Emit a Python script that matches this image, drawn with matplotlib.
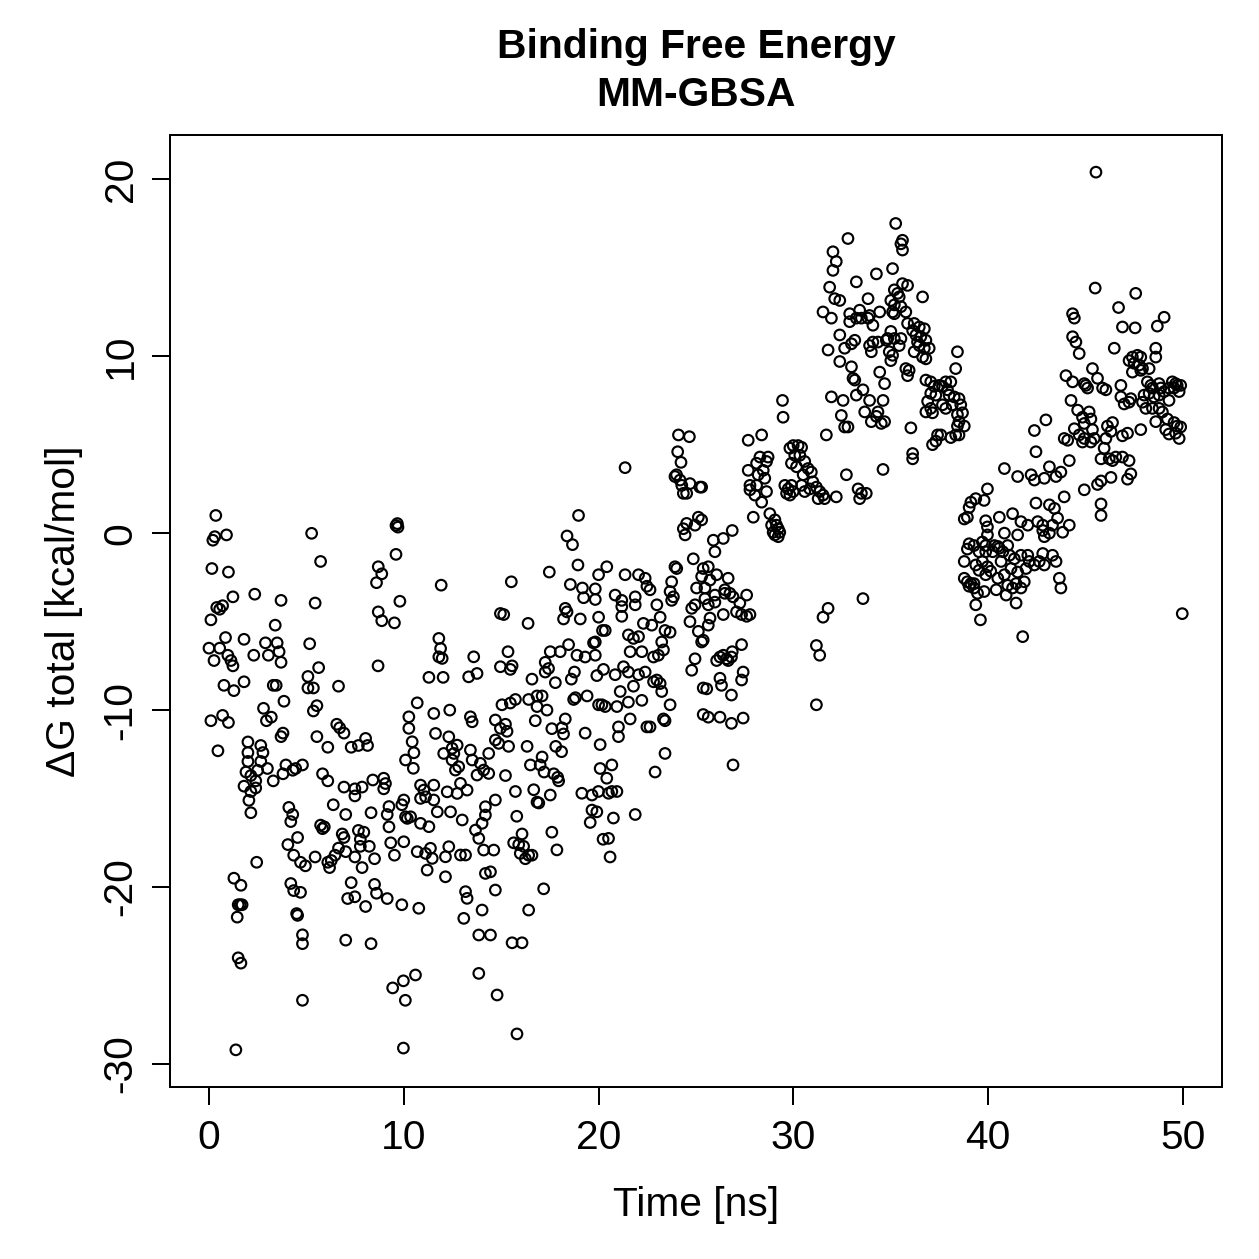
import numpy as np
import matplotlib
matplotlib.use("Agg")
import matplotlib.pyplot as plt

# MM-GBSA binding free energy per frame, (time [ns], dG total [kcal/mol]),
# read off the reference in 5 ns blocks.
block_00_05 = [
    (0.35, 1.0), (0.2, -0.4), (0.3, -0.2), (0.9, -0.1), (0.15, -2.0), (1.0, -2.2),
    (1.23, -3.6), (2.35, -3.45), (3.7, -3.8), (0.4, -4.2), (0.55, -4.3), (0.7, -4.1),
    (0.1, -4.9), (3.4, -5.2), (0.85, -5.9), (1.8, -6.0), (0.0, -6.5), (0.55, -6.5),
    (2.9, -6.2), (3.5, -6.2), (3.05, -6.9), (3.6, -6.7), (0.26, -7.2), (0.97, -6.9),
    (1.13, -7.2), (1.23, -7.5), (2.3, -6.9), (3.7, -7.3), (0.77, -8.6), (1.28, -8.9),
    (1.8, -8.4), (3.3, -8.6), (3.45, -8.6), (2.8, -9.9), (3.2, -10.4), (2.95, -10.6),
    (3.85, -9.5), (0.1, -10.6), (0.7, -10.3), (1.0, -10.7), (3.7, -11.5), (3.8, -11.3),
    (2.0, -11.8), (2.66, -12.0), (2.77, -12.4), (2.0, -12.4), (0.46, -12.3), (2.0, -12.9),
    (2.5, -13.4), (2.66, -12.9), (3.95, -13.1), (3.0, -13.3), (3.3, -14.0), (3.8, -13.6),
    (4.3, -13.4), (4.45, -13.3), (4.8, -13.1), (1.9, -13.5), (2.15, -13.7), (2.4, -14.0),
    (1.8, -14.3), (2.15, -14.6), (2.4, -14.4), (2.05, -15.1), (2.15, -15.8), (4.1, -15.5),
    (4.3, -15.9), (4.2, -16.3), (4.55, -17.2), (4.05, -17.6), (4.35, -18.2), (4.7, -18.6),
    (4.95, -18.8), (2.45, -18.6), (4.2, -19.8), (4.35, -20.2), (4.7, -20.3), (1.28, -19.5),
    (1.64, -19.9), (1.5, -21.0), (1.6, -21.0), (1.7, -21.0), (1.45, -21.7), (4.5, -21.5),
    (4.55, -21.6), (4.8, -22.7), (4.8, -23.2), (1.5, -24.0), (1.64, -24.3), (4.8, -26.4),
    (1.38, -29.2),
]

block_05_10 = [
    (5.27, -0.01), (5.73, -1.6), (5.45, -3.95), (5.17, -6.25), (5.63, -7.6), (5.08, -8.1),
    (5.36, -8.75), (5.08, -8.75), (6.65, -8.65), (5.54, -9.75), (5.36, -10.05), (6.56, -10.8),
    (6.71, -11.0), (5.54, -11.5), (6.1, -12.1), (6.93, -11.3), (7.3, -12.1), (7.67, -12.0),
    (8.14, -12.0), (8.04, -11.6), (5.83, -13.6), (6.1, -14.0), (8.68, -7.5), (8.69, -1.9),
    (8.87, -2.3), (8.6, -2.8), (9.6, 0.43), (9.7, 0.34), (9.67, 0.54), (9.6, -1.2),
    (9.8, -3.85), (8.69, -4.45), (8.87, -4.95), (9.52, -5.07), (6.93, -14.35), (7.49, -14.45),
    (7.49, -14.85), (7.86, -14.35), (8.41, -13.95), (8.97, -13.85), (9.06, -14.15), (8.97, -14.45),
    (6.38, -15.35), (7.02, -15.9), (8.32, -15.8), (9.15, -15.9), (9.24, -15.45), (9.9, -15.35),
    (5.73, -16.5), (5.83, -16.7), (5.92, -16.6), (6.84, -17.0), (6.93, -17.2), (7.67, -16.8),
    (7.95, -16.9), (7.77, -17.3), (9.24, -16.6), (9.33, -17.5), (5.45, -18.3), (6.1, -18.6),
    (6.28, -18.5), (6.19, -18.9), (6.47, -18.2), (6.65, -17.8), (7.02, -18.0), (7.49, -18.3),
    (7.86, -18.9), (7.77, -17.7), (8.23, -17.7), (8.5, -18.4), (9.52, -18.2), (7.3, -19.75),
    (8.5, -19.85), (8.6, -20.35), (9.15, -20.65), (9.9, -21.0), (7.49, -20.55), (7.12, -20.65),
    (8.04, -21.1), (7.02, -23.0), (8.32, -23.2), (9.43, -25.7), (9.98, -25.3), (10.08, -26.4),
    (9.98, -29.1),
]

block_10_15 = [
    (11.92, -2.94), (14.96, -4.54), (11.8, -5.95), (11.89, -6.52), (11.97, -7.08), (11.8, -6.99),
    (13.59, -6.99), (13.76, -7.93), (13.33, -8.12), (11.29, -8.15), (12.02, -8.15), (14.96, -7.55),
    (10.69, -9.59), (10.26, -10.38), (10.26, -11.03), (10.43, -11.79), (10.52, -12.41),
    (10.09, -12.82), (10.49, -13.29), (11.54, -10.19), (12.36, -10.0), (11.63, -11.32),
    (12.31, -11.51), (13.42, -10.38), (13.51, -10.66), (14.7, -10.56), (14.96, -11.03),
    (14.7, -11.69), (12.05, -12.45), (12.48, -12.16), (12.57, -12.45), (12.74, -11.98),
    (12.48, -12.82), (12.82, -13.2), (12.65, -13.39), (13.42, -12.26), (13.51, -12.82),
    (13.93, -13.01), (14.1, -13.39), (14.36, -12.45), (14.87, -11.88), (10.86, -14.24),
    (11.03, -14.52), (11.54, -14.24), (10.86, -14.99), (11.12, -14.9), (11.54, -15.08),
    (12.23, -14.62), (12.74, -14.71), (12.91, -14.14), (13.25, -14.52), (13.76, -13.67),
    (14.36, -13.58), (14.7, -15.08), (14.19, -15.46), (10.0, -15.08), (10.09, -16.03),
    (10.35, -16.03), (10.18, -16.12), (10.86, -16.4), (11.29, -16.59), (11.72, -15.75),
    (12.4, -15.75), (13.0, -16.21), (14.19, -15.93), (14.02, -16.4), (13.68, -16.78),
    (13.85, -17.25), (14.1, -17.91), (14.62, -17.91), (14.45, -19.14), (14.19, -19.23),
    (14.7, -20.17), (10.0, -17.44), (10.69, -18.0), (11.12, -18.1), (11.37, -17.81),
    (11.46, -18.38), (12.14, -18.29), (12.31, -17.72), (12.91, -18.19), (13.17, -18.19),
    (11.2, -19.04), (12.14, -19.42), (13.17, -20.26), (13.25, -20.64), (13.08, -21.77),
    (14.02, -21.3), (10.77, -21.2), (13.85, -22.71), (14.45, -22.71), (10.6, -24.97),
    (13.85, -24.88), (14.79, -26.1),
]

block_15_20 = [
    (18.97, 1.0), (18.38, -0.16), (18.66, -0.65), (18.94, -1.8), (17.47, -2.2), (15.52, -2.75),
    (20.0, -2.35), (18.55, -2.9), (19.17, -3.1), (19.83, -3.15), (19.23, -3.65), (19.83, -3.75),
    (18.29, -4.25), (18.38, -4.45), (18.2, -4.85), (19.06, -4.85), (20.0, -4.75), (15.13, -4.6),
    (16.38, -5.1), (20.2, -5.5), (15.35, -6.7), (15.47, -7.7), (15.56, -7.5), (17.52, -6.7),
    (18.03, -6.7), (18.46, -6.3), (18.89, -6.9), (19.31, -7.0), (19.83, -6.9), (17.26, -7.3),
    (17.43, -7.65), (17.26, -7.85), (18.6, -8.25), (18.76, -7.85), (19.74, -6.2), (19.91, -8.05),
    (17.78, -8.45), (16.58, -8.25), (15.04, -9.7), (15.47, -9.6), (15.73, -9.4), (16.41, -9.4),
    (16.84, -9.2), (17.1, -9.2), (16.84, -9.8), (17.35, -10.0), (18.72, -9.4), (18.81, -9.3),
    (19.41, -9.2), (20.0, -9.7), (15.22, -10.8), (15.3, -11.2), (15.38, -12.05), (16.33, -12.05),
    (16.75, -10.6), (17.6, -11.05), (18.12, -11.0), (18.2, -11.35), (18.29, -10.5), (19.31, -11.3),
    (17.1, -12.65), (17.0, -13.1), (16.5, -13.1), (17.2, -13.5), (17.8, -12.05), (18.1, -12.35),
    (17.7, -13.6), (17.9, -13.8), (17.95, -14.0), (15.22, -13.7), (16.67, -14.5), (16.84, -15.2),
    (16.93, -15.25), (17.52, -14.8), (19.14, -14.7), (19.66, -14.8), (19.66, -15.65),
    (19.57, -16.35), (15.73, -14.6), (15.8, -16.0), (16.07, -17.0), (15.64, -17.5), (15.9, -17.6),
    (16.15, -17.7), (15.98, -18.1), (16.24, -18.4), (16.41, -18.2), (16.58, -18.2), (17.6, -16.9),
    (17.86, -17.9), (20.23, -17.3), (17.18, -20.1), (16.41, -21.3), (15.56, -23.15),
    (16.07, -23.15), (15.81, -28.3),
]

block_20_25 = [
    (24.1, 5.55), (24.66, 5.45), (24.06, 4.6), (24.23, 4.0), (21.36, 3.7), (23.92, 3.2),
    (24.18, 3.0), (24.27, 2.7), (24.69, 2.8), (24.35, 2.25), (24.52, 2.25), (25.2, 2.6),
    (24.0, 3.3), (25.12, 0.9), (24.52, 0.55), (24.95, 0.45), (24.35, 0.25), (24.44, -0.1),
    (24.86, -1.45), (23.92, -1.9), (24.01, -2.0), (23.75, -2.75), (23.84, -3.6), (23.75, -3.8),
    (23.67, -3.3), (20.42, -1.9), (21.36, -2.35), (22.05, -2.35), (22.39, -2.55), (22.48, -3.0),
    (22.64, -3.2), (20.85, -3.5), (21.19, -3.8), (21.19, -4.15), (21.88, -3.6), (21.88, -4.05),
    (22.99, -4.05), (21.19, -4.7), (25.03, -3.1), (24.95, -4.05), (24.78, -4.25), (24.69, -5.0),
    (25.12, -5.55), (25.29, -6.15), (20.34, -5.5), (20.25, -7.7), (20.85, -8.0), (21.53, -5.75),
    (21.79, -5.95), (22.05, -5.85), (22.3, -5.1), (22.73, -5.2), (23.16, -4.75), (23.41, -5.5),
    (23.67, -5.6), (23.24, -6.15), (21.62, -6.7), (22.22, -6.7), (22.82, -7.0), (23.07, -6.9),
    (23.33, -6.6), (19.83, -6.15), (21.28, -7.55), (21.53, -7.85), (22.05, -8.0), (22.39, -7.85),
    (22.82, -8.4), (22.99, -8.3), (23.16, -8.5), (23.24, -8.95), (21.79, -8.65), (21.11, -8.95),
    (22.22, -9.45), (23.67, -9.7), (24.95, -7.1), (24.78, -7.75), (20.17, -9.7), (20.34, -9.8),
    (20.94, -9.8), (21.53, -9.55), (21.62, -10.5), (22.48, -10.95), (22.64, -10.95),
    (23.33, -10.5), (23.41, -10.6), (25.37, -8.75), (25.37, -10.25), (21.02, -10.95),
    (21.02, -11.5), (20.08, -11.95), (20.68, -13.1), (20.08, -13.3), (20.42, -13.85),
    (20.51, -14.7), (20.68, -14.6), (20.94, -14.6), (19.99, -14.6), (23.41, -12.45),
    (22.9, -13.5), (20.76, -16.1), (21.88, -15.9), (20.51, -17.25), (20.59, -18.3), (19.91, -15.75),
]

block_25_30 = [
    (29.44, 7.5), (29.47, 6.55), (27.68, 5.25), (28.37, 5.55), (28.28, 4.3), (28.7, 4.3),
    (28.62, 4.05), (28.11, 3.95), (27.68, 3.55), (28.45, 3.55), (28.19, 3.3), (28.53, 3.1),
    (27.77, 2.7), (28.11, 2.7), (28.62, 2.35), (28.02, 2.15), (27.77, 2.45), (28.37, 1.75),
    (27.94, 0.9), (28.79, 1.1), (29.05, 0.75), (29.13, 0.45), (29.22, 0.25), (29.3, 0.05),
    (28.96, 0.05), (29.05, -0.1), (29.22, -0.2), (28.88, 0.45), (29.56, 2.7), (29.73, 2.5),
    (29.65, 2.25), (25.29, 2.6), (25.29, 0.75), (25.89, -0.4), (26.4, -0.3), (25.97, -1.05),
    (26.86, 0.15), (25.37, -2.0), (25.63, -1.9), (25.29, -2.45), (25.46, -3.1), (25.72, -2.65),
    (26.06, -2.35), (26.65, -2.55), (26.48, -3.2), (26.74, -3.4), (25.97, -3.5), (25.46, -3.7),
    (25.97, -3.9), (25.63, -4.05), (26.48, -3.4), (26.9, -3.6), (27.25, -3.95), (27.6, -3.5),
    (27.08, -4.45), (27.34, -4.6), (27.6, -4.7), (27.77, -4.6), (25.72, -4.8), (25.63, -5.2),
    (26.4, -4.6), (25.37, -6.05), (27.34, -6.3), (26.23, -7.0), (26.4, -6.9), (26.57, -7.1),
    (26.65, -7.2), (26.82, -7.0), (26.06, -7.2), (26.86, -6.7), (27.42, -7.85), (27.34, -8.3),
    (26.23, -8.2), (26.31, -8.6), (25.55, -8.8), (26.82, -9.15), (25.63, -10.4), (26.23, -10.4),
    (26.82, -10.75), (27.42, -10.45), (26.9, -13.1),
]

block_30_35 = [
    (35.25, 17.5), (32.8, 16.65), (32.03, 15.9), (32.2, 15.35), (32.03, 14.85), (34.26, 14.65),
    (33.23, 14.2), (31.86, 13.9), (32.12, 13.25), (32.38, 13.15), (33.83, 13.25), (31.52, 12.5),
    (31.95, 12.15), (32.89, 12.4), (33.4, 12.6), (33.49, 12.15), (33.91, 12.3), (33.83, 12.15),
    (34.08, 11.75), (34.43, 12.5), (32.89, 11.95), (33.23, 12.15), (32.38, 11.2), (31.78, 10.35),
    (32.63, 10.45), (32.98, 10.7), (33.15, 10.9), (34.08, 10.8), (33.91, 10.6), (34.0, 10.25),
    (34.34, 10.8), (34.77, 10.9), (32.38, 9.7), (32.98, 9.4), (33.06, 8.75), (33.15, 8.65),
    (34.43, 9.1), (34.68, 8.45), (31.95, 7.7), (32.55, 7.5), (33.23, 7.8), (33.57, 8.1),
    (33.91, 7.5), (33.66, 6.85), (34.0, 6.3), (34.34, 6.85), (34.6, 7.5), (34.68, 6.3),
    (34.51, 6.2), (32.46, 6.65), (32.63, 6.0), (32.8, 6.0), (34.26, 6.6), (31.69, 5.55),
    (32.72, 3.3), (34.6, 3.6), (33.32, 2.5), (33.49, 2.25), (33.74, 2.25), (33.4, 1.95),
    (29.82, 4.8), (29.99, 4.95), (30.24, 4.95), (30.42, 4.85), (30.07, 4.4), (30.33, 4.4),
    (29.9, 3.95), (30.16, 3.75), (30.58, 4.05), (30.75, 3.65), (30.92, 3.45), (30.5, 3.3),
    (29.9, 2.7), (29.99, 2.35), (30.42, 2.7), (30.58, 2.35), (31.0, 2.9), (31.18, 2.6),
    (31.35, 2.35), (31.52, 2.15), (31.27, 1.95), (31.6, 1.95), (32.2, 2.05), (30.84, 2.5),
    (29.82, 2.15), (33.57, -3.7), (31.78, -4.25), (31.52, -4.75), (31.18, -6.35), (31.35, -6.9),
    (31.18, -9.7),
]

block_35_40 = [
    (35.6, 16.55), (35.52, 16.35), (35.6, 16.0), (35.09, 14.95), (35.6, 14.1), (35.86, 14.0),
    (35.18, 13.75), (35.35, 13.55), (35.43, 13.35), (36.63, 13.35), (35.0, 13.15), (35.18, 12.9),
    (35.52, 12.8), (35.09, 12.5), (35.18, 12.4), (35.77, 12.5), (35.86, 11.85), (36.2, 11.85),
    (36.46, 11.65), (36.72, 11.55), (36.12, 11.45), (36.29, 11.2), (36.54, 11.1), (36.37, 10.8),
    (36.8, 10.9), (36.46, 10.6), (36.2, 10.25), (36.63, 9.95), (36.8, 9.85), (36.72, 10.45),
    (36.97, 10.45), (35.0, 11.4), (35.18, 11.0), (35.52, 11.0), (35.43, 10.6), (34.84, 11.0),
    (34.92, 10.25), (35.09, 10.05), (35.0, 9.75), (35.77, 9.3), (35.94, 9.2), (35.86, 8.9),
    (38.42, 10.25), (38.33, 9.3), (36.8, 8.65), (37.05, 8.55), (37.23, 8.3), (37.48, 8.35),
    (37.65, 8.3), (37.82, 8.55), (38.08, 8.55), (37.91, 8.1), (37.99, 7.8), (38.25, 7.7),
    (37.05, 7.9), (37.31, 7.8), (36.89, 7.45), (37.05, 7.05), (36.8, 6.85), (37.14, 6.8),
    (37.65, 7.25), (37.82, 7.05), (38.16, 7.25), (38.5, 7.6), (38.59, 7.25), (38.42, 6.7),
    (38.68, 6.8), (38.5, 6.3), (38.42, 6.05), (38.77, 6.05), (38.5, 5.55), (38.33, 5.55),
    (38.08, 5.4), (37.4, 5.55), (37.57, 5.55), (37.31, 5.2), (37.14, 5.0), (36.03, 5.95),
    (36.12, 4.5), (36.12, 4.2), (39.96, 2.5), (39.36, 1.95), (39.79, 1.85), (39.11, 1.75),
    (39.02, 1.45), (38.77, 0.8), (38.93, 0.9), (39.87, 0.7), (39.96, 0.35), (39.96, -0.1),
    (39.7, -0.5), (39.87, -0.7), (39.27, -0.7), (39.02, -0.6), (38.93, -0.9), (39.53, -1.05),
    (39.87, -1.05), (38.77, -1.6), (39.36, -1.8), (39.7, -1.6), (39.96, -1.9), (40.13, -2.15),
    (39.53, -2.1), (39.87, -2.35), (38.77, -2.55), (38.93, -2.75), (39.11, -2.85), (39.27, -2.85),
    (39.02, -3.0), (39.27, -3.1), (39.45, -3.4), (39.79, -3.3), (39.36, -4.05), (39.6, -4.9),
]

block_40_45 = [
    (44.33, 12.4), (44.42, 12.15), (44.33, 11.1), (44.5, 10.8), (44.67, 10.15), (43.99, 8.9),
    (44.33, 8.55), (44.93, 8.45), (44.25, 7.5), (44.59, 6.95), (44.84, 6.55), (44.93, 6.2),
    (44.42, 5.9), (43.9, 5.35), (44.08, 5.25), (44.67, 5.55), (44.93, 5.35), (44.84, 5.15),
    (42.96, 6.4), (42.37, 5.8), (42.45, 4.6), (40.83, 3.65), (41.51, 3.2), (42.2, 3.3),
    (42.37, 3.0), (42.88, 3.1), (43.14, 3.75), (43.48, 3.2), (43.73, 3.45), (44.16, 4.1),
    (44.93, 2.45), (42.45, 1.7), (43.14, 1.6), (43.4, 1.4), (43.9, 2.05), (40.57, 0.9),
    (41.25, 1.1), (41.68, 0.65), (42.03, 0.45), (42.54, 0.65), (42.8, 0.45), (42.8, 0.15),
    (43.3, 0.45), (43.56, 0.85), (44.16, 0.45), (43.82, 0.05), (43.14, 0.0), (42.88, -0.2),
    (41.51, -0.1), (40.83, 0.0), (40.32, -0.7), (40.49, -0.75), (40.23, -1.05), (40.57, -0.85),
    (40.75, -1.05), (41.0, -0.7), (41.09, -1.25), (41.34, -1.45), (41.68, -1.25), (42.03, -1.25),
    (42.11, -1.6), (42.37, -1.8), (42.62, -1.6), (42.8, -1.15), (43.3, -1.25), (43.48, -1.6),
    (42.88, -1.8), (41.94, -2.0), (41.51, -2.2), (41.17, -2.0), (40.66, -1.6), (40.49, -2.55),
    (40.83, -2.35), (41.0, -2.95), (41.25, -3.1), (41.43, -2.85), (41.68, -3.1), (41.85, -2.75),
    (40.41, -3.2), (40.92, -3.5), (41.43, -3.95), (43.65, -2.55), (43.73, -3.1), (41.77, -5.85),
]

block_45_50 = [
    (45.53, 20.4), (45.49, 13.85), (47.57, 13.55), (46.69, 12.75), (46.89, 11.65), (47.54, 11.6),
    (48.68, 11.7), (49.03, 12.2), (46.47, 10.45), (48.6, 10.45), (48.6, 9.95), (47.23, 9.75),
    (47.4, 9.95), (47.66, 10.05), (47.83, 9.95), (47.49, 9.6), (47.75, 9.5), (47.92, 9.3),
    (47.4, 9.1), (47.83, 9.2), (48.26, 9.3), (45.35, 9.3), (45.61, 8.75), (45.01, 8.35),
    (45.1, 8.2), (45.87, 8.2), (46.04, 8.1), (46.81, 8.35), (46.81, 7.7), (46.98, 7.3),
    (47.23, 7.4), (47.32, 7.6), (48.17, 8.55), (48.35, 8.35), (48.43, 8.2), (48.26, 7.9),
    (48.51, 7.7), (48.77, 8.45), (48.86, 8.2), (49.03, 8.0), (48.77, 7.8), (49.28, 8.2),
    (49.54, 8.2), (49.62, 8.45), (49.7, 8.35), (49.8, 8.0), (49.88, 8.35), (49.45, 8.55),
    (48.0, 7.8), (47.92, 7.4), (48.09, 7.05), (48.43, 7.05), (48.77, 7.05), (48.94, 6.85),
    (48.6, 6.3), (49.28, 7.5), (49.2, 6.45), (49.54, 6.25), (49.7, 6.05), (49.11, 5.85),
    (49.28, 5.6), (49.62, 5.65), (49.8, 5.35), (49.88, 6.0), (47.83, 5.85), (47.15, 5.65),
    (46.89, 5.5), (46.12, 6.05), (46.38, 6.25), (46.3, 5.75), (46.04, 5.35), (45.95, 4.8),
    (45.18, 6.85), (45.27, 6.45), (45.35, 5.85), (45.44, 5.35), (45.27, 5.15), (45.79, 4.2),
    (46.21, 4.2), (46.38, 4.1), (46.55, 4.3), (46.89, 4.3), (47.23, 4.1), (47.32, 3.35),
    (47.15, 3.05), (46.3, 3.15), (45.79, 2.95), (45.61, 2.75), (45.79, 1.65), (45.79, 1.0),
    (49.96, -4.55),
]

blocks = [block_00_05, block_05_10, block_10_15, block_15_20, block_20_25,
          block_25_30, block_30_35, block_35_40, block_40_45, block_45_50]
time_ns, dg_total = np.array([p for b in blocks for p in b]).T

x_ticks = [0, 10, 20, 30, 40, 50]
y_ticks = [-30, -20, -10, 0, 10, 20]

plt.rcParams['font.family'] = ['Liberation Sans', 'DejaVu Sans']
plt.rcParams['axes.unicode_minus'] = False
fs = 16.3

fig = plt.figure(figsize=(1259 / 180, 1259 / 180), dpi=180)
ax = fig.add_axes([170 / 1259, 1 - 1087 / 1259, 1052 / 1259, 952 / 1259])

ax.scatter(time_ns, dg_total, s=18, facecolors='none', edgecolors='black',
           linewidths=0.85)

ax.set_xlim(-2, 52)
ax.set_ylim(-31.3, 22.5)
ax.set_xticks(x_ticks)
ax.set_yticks(y_ticks)
ax.tick_params(direction='out', length=7.2, width=0.8, labelsize=fs,
               color='black', labelcolor='black')
ax.tick_params(axis='x', pad=5.6)
ax.tick_params(axis='y', pad=5.0, labelrotation=90)
for lab in ax.get_yticklabels():
    lab.set_va('center')
for sp in ax.spines.values():
    sp.set_linewidth(0.8)

ax.set_xlabel('Time [ns]', fontsize=fs, va='center')
ax.xaxis.set_label_coords(0.5, (1087 - 1205) / 952)
ax.set_ylabel('ΔG total [kcal/mol]', fontsize=fs, va='center')
ax.yaxis.set_label_coords((64 - 170) / 1052, 0.5)

ax.set_title('Binding Free Energy\nMM-GBSA', fontsize=fs, fontweight='bold',
             y=1 + (135 - 86) / 952, va='center', linespacing=1.3)

fig.savefig('out.png', dpi=180)
